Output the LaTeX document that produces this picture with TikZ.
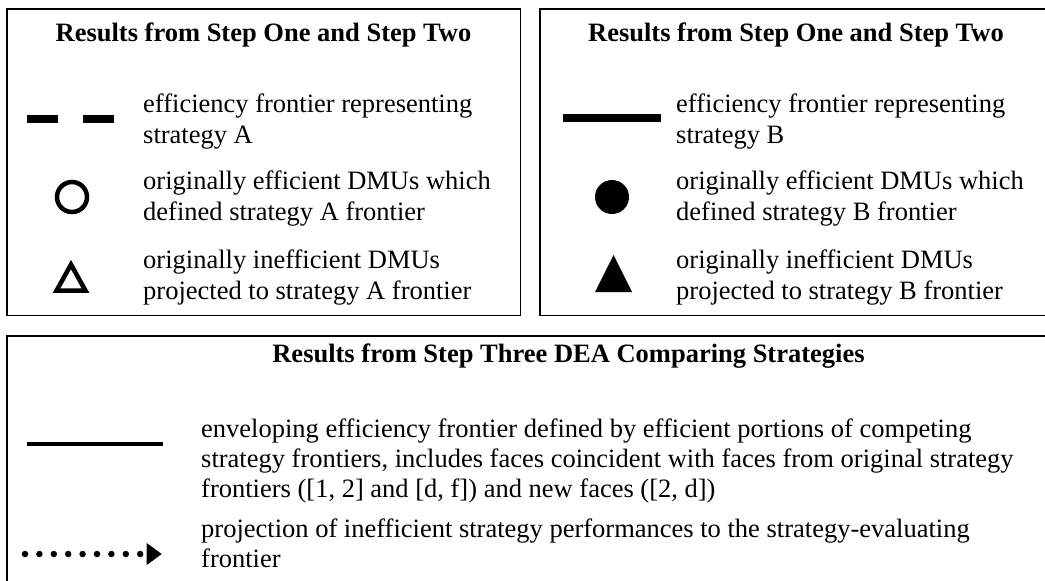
\documentclass[tikz,border=0pt]{standalone}
\usepackage{fontspec}
\setmainfont{Liberation Serif}
\tikzset{
  panel/.style={draw=black, line width=1.5pt},
  bigpanel/.style={draw=black, line width=2pt},
  ttl/.style={inner sep=0pt, anchor=base, font=\fontsize{26.5}{30}\selectfont\bfseries},
  txt/.style={inner sep=0pt, anchor=base west, font=\fontsize{26.5}{30}\selectfont},
  symstroke/.style={draw=black, line width=4.5pt},
}
\begin{document}
\begin{tikzpicture}[x=1pt,y=-1pt]
\useasboundingbox (0,0) rectangle (1045,581);
\clip (0,0) rectangle (1045,581);
\fill[white] (0,0) rectangle (1045,581);
% panels
\draw[panel] (7,9) rectangle (520.5,315.5);
\draw[panel] (540,9) rectangle (1052,315.5);
\draw[bigpanel] (7,336) rectangle (1130,600);
% titles
\node[ttl] (t1) at (263.5,41) {Results from Step One and Step Two};
\node[ttl] (t2) at (796,41) {Results from Step One and Step Two};
\node[ttl] (t3) at (568.5,362) {Results from Step Three DEA Comparing Strategies};
% panel A symbols
\coordinate (da) at (27,119);
\coordinate (db) at (115,119);
\draw[line width=8pt, dash pattern=on 31pt off 25pt] (da) -- (db);
\draw[symstroke] (72,197) circle[radius=15pt];
\draw[symstroke, line join=miter] (71,264.5) -- (56.5,290.7) -- (85.5,290.7) -- cycle;
% panel A text
\node[txt] (a11) at (143,112) {efficiency frontier representing};
\node[txt] (a12) at (143,143) {strategy A};
\node[txt] (a21) at (143,189) {originally efficient DMUs which};
\node[txt] (a22) at (143,220) {defined strategy A frontier};
\node[txt] (a31) at (143,268) {originally inefficient DMUs};
\node[txt] (a32) at (143,299) {projected to strategy A frontier};
% panel B symbols
\coordinate (sa) at (563,117.5);
\coordinate (sb) at (661,117.5);
\draw[line width=8pt] (sa) -- (sb);
\fill[black] (612,197) circle[radius=17pt];
\fill[black] (613.5,255) -- (595,292) -- (632,292) -- cycle;
% panel B text
\node[txt] (b11) at (676,112) {efficiency frontier representing};
\node[txt] (b12) at (676,143) {strategy B};
\node[txt] (b21) at (676,189) {originally efficient DMUs which};
\node[txt] (b22) at (676,220) {defined strategy B frontier};
\node[txt] (b31) at (676,268) {originally inefficient DMUs};
\node[txt] (b32) at (676,299) {projected to strategy B frontier};
% panel C symbols
\coordinate (ea) at (27,444);
\coordinate (eb) at (163,444);
\draw[line width=4.5pt] (ea) -- (eb);
\coordinate (pa) at (25,554);
\coordinate (pb) at (141,554);
\draw[line width=6.5pt, line cap=round, dash pattern=on 0pt off 14.4pt] (pa) -- (pb);
\fill[black] (146.7,543) -- (161.7,554) -- (146.7,565) -- cycle;
% panel C text
\node[txt] (c11) at (201,437) {enveloping efficiency frontier defined by efficient portions of competing};
\node[txt] (c12) at (201,467) {strategy frontiers, includes faces coincident with faces from original strategy};
\node[txt] (c13) at (201,497) {frontiers ([1, 2] and [d, f]) and new faces ([2, d])};
\node[txt] (c21) at (201,537) {projection of inefficient strategy performances to the strategy-evaluating};
\node[txt] (c22) at (201,567) {frontier};
\end{tikzpicture}
\end{document}
